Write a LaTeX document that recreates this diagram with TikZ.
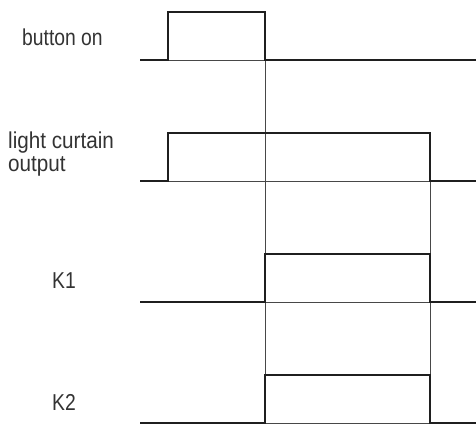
\documentclass[tikz,border=0pt]{standalone}
\usepackage{fontspec}
\setmainfont{Liberation Sans}
\usepackage{tikz}
\usepackage{xcolor}
\colorlet{sigdark}{black!88}
\colorlet{guidegray}{black!72}

\begin{document}
\begin{tikzpicture}[x=1pt,y=-1pt,
    signal/.style={line width=2.6pt,sigdark,line join=miter},
    guide/.style={line width=0.9pt,guidegray},
    lbl/.style={black!80,inner sep=0,xscale=0.84,
      font=\fontsize{23}{23}\selectfont,anchor=base west}]
    \useasboundingbox (0,0) rectangle (476,426);

    \node[lbl] (button) at (22,45) {button on};
    \node[lbl,align=left,xscale=1.07] (curtain) at (8,171) {light curtain\\output};
    \node[lbl] (kone) at (52,288) {K1};
    \node[lbl] (ktwo) at (52,410) {K2};

    % thin guides
    \draw[guide] (168,60) -- (265,60);
    \draw[guide] (168,181) -- (430,181);
    \draw[guide] (265,302) -- (430,302);
    \draw[guide] (265,423) -- (430,423);
    \draw[guide] (265,60) -- (265,423);
    \draw[guide] (430,181) -- (430,423);

    % signals
    \draw[signal] (140,60) -- (168,60) -- (168,12) -- (265,12) -- (265,60) -- (476,60);
    \draw[signal] (140,181) -- (168,181) -- (168,133) -- (430,133) -- (430,181) -- (476,181);
    \draw[signal] (140,302) -- (265,302) -- (265,254) -- (430,254) -- (430,302) -- (476,302);
    \draw[signal] (140,423) -- (265,423) -- (265,375) -- (430,375) -- (430,423) -- (476,423);

\end{tikzpicture}
\end{document}
